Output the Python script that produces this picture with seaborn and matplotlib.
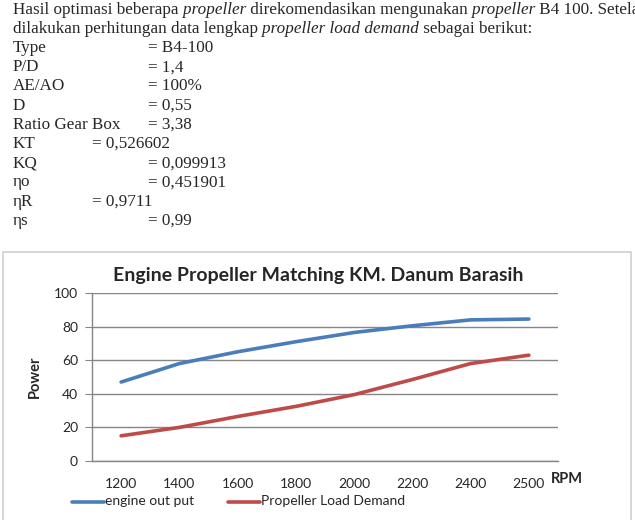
import matplotlib
matplotlib.use("Agg")
import matplotlib.pyplot as plt
import pandas as pd
import seaborn as sns
from matplotlib.patches import Rectangle

sns.set_style("white")

# data
rpm_labels = ["1200", "1400", "1600", "1800", "2000", "2200", "2400", "2500"]
engine_out = [47, 58, 65, 71, 76.5, 80.5, 84, 84.5]
prop_load = [15, 20, 26.5, 32.5, 39.5, 48.5, 58, 63]
series_names = ["engine out put", "Propeller Load Demand"]
y_ticks = [0, 20, 40, 60, 80, 100]

# text above the chart
para_runs = [
    [("Hasil optimasi beberapa ", "normal"), ("propeller", "italic"),
     (" direkomendasikan mengunakan ", "normal"), ("propeller", "italic"),
     (" B4 100. Setela", "normal")],
    [("dilakukan perhitungan data lengkap ", "normal"),
     ("propeller load demand", "italic"), (" sebagai berikut:", "normal")],
]
spec_rows = [
    ("Type", "= B4-100", 148),
    ("P/D", "= 1,4", 148),
    ("AE/AO", "= 100%", 148),
    ("D", "= 0,55", 148),
    ("Ratio Gear Box", "= 3,38", 148),
    ("KT", "= 0,526602", 92),
    ("KQ", "= 0,099913", 148),
    ("\u03b7o", "= 0,451901", 148),
    ("\u03b7R", "= 0,9711", 92),
    ("\u03b7s", "= 0,99", 148),
]

W, H = 635, 520
fig = plt.figure(figsize=(W / 100, H / 100), dpi=100)
renderer = fig.canvas.get_renderer()
serif = ["Liberation Serif", "DejaVu Serif"]
fs_body = 12.3


def px(x, y):
    return x / W, 1 - y / H


# paragraph, drawn run by run so italics can be mixed in
for i, runs in enumerate(para_runs):
    x = 13
    y = 10 + i * 19
    for txt, style in runs:
        t = fig.text(*px(x, y), txt, family=serif, style=style, fontsize=fs_body,
                     va="center", ha="left")
        bb = t.get_window_extent(renderer=renderer)
        x += bb.width

for i, (lab, val, vx) in enumerate(spec_rows):
    y = 48 + i * 19.2
    fig.text(*px(13, y), lab, family=serif, fontsize=fs_body, va="center")
    fig.text(*px(vx, y), val, family=serif, fontsize=fs_body, va="center")

# chart border
fig.patches.append(Rectangle((3 / W, -0.01), 628 / W, 1 - 252 / H + 0.01,
                             transform=fig.transFigure, fill=False,
                             edgecolor="#d0d0d0", linewidth=1.2))

df = pd.DataFrame({
    "RPM": rpm_labels * 2,
    "Power": engine_out + prop_load,
    "series": [series_names[0]] * len(rpm_labels) + [series_names[1]] * len(rpm_labels),
})

sans = ["Lato", "DejaVu Sans"]
ax = fig.add_axes([92 / W, 1 - 461 / H, 466 / W, 168 / H])
sns.lineplot(data=df, x="RPM", y="Power", hue="series",
             palette=["#4a7ebb", "#be4b48"], linewidth=2.6, ax=ax, legend=False)

ax.set_xlim(-0.5, len(rpm_labels) - 0.5)
ax.set_ylim(0, 100)
ax.set_yticks(y_ticks)
ax.set_yticklabels([str(v) for v in y_ticks], family=sans, fontsize=10)
ax.yaxis.grid(True, color="#868686", linewidth=1)
ax.set_axisbelow(True)

ax.set_xticks(range(len(rpm_labels)))
ax.set_xticklabels(rpm_labels, family=sans, fontsize=10)
ax.set_xticks([i - 0.5 for i in range(len(rpm_labels) + 1)], minor=True)
ax.tick_params(axis="x", which="major", length=0, pad=12)
ax.tick_params(axis="x", which="minor", length=5, color="#868686", direction="out")
ax.tick_params(axis="y", length=5, color="#868686", direction="out", pad=5, left=True)

for s in ["top", "right"]:
    ax.spines[s].set_visible(False)
for s in ["left", "bottom"]:
    ax.spines[s].set_color("#868686")
    ax.spines[s].set_linewidth(1)

ax.set_xlabel("")
ax.set_ylabel("Power", family=sans, fontsize=10.5, fontweight="bold", labelpad=9)

fig.text(*px(318, 276), "Engine Propeller Matching KM. Danum Barasih", family=sans,
         fontsize=14, fontweight="bold", ha="center", va="center")
fig.text(*px(551, 479), "RPM", family=sans, fontsize=10.5, fontweight="bold",
         ha="left", va="center")

# legend below chart
colors = ["#4a7ebb", "#be4b48"]
lx = [72, 228]
for name, c, x0 in zip(series_names, colors, lx):
    fig.add_artist(plt.Line2D([x0 / W, (x0 + 32) / W], [1 - 502 / H] * 2,
                              transform=fig.transFigure, color=c, linewidth=2.6))
    fig.text(*px(x0 + 33, 501), name, family=sans, fontsize=10, va="center", ha="left")

fig.savefig("out.png", dpi=100)
